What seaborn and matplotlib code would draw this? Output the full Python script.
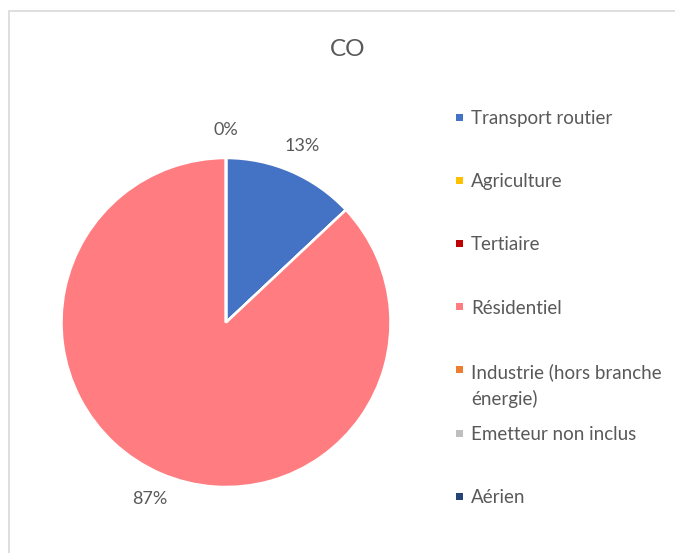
import matplotlib
matplotlib.use("Agg")
import matplotlib.pyplot as plt
from matplotlib.patches import Rectangle
import seaborn as sns

# ---- data ----
title = "CO"
categories = ["Transport routier", "Agriculture", "Tertiaire", "Résidentiel",
              "Industrie (hors branche\nénergie)", "Emetteur non inclus", "Aérien"]
values = [13, 0, 0, 87, 0, 0, 0]
colors_hex = ["#4472C4", "#FFC000", "#C00000", "#FF7C80", "#ED7D31", "#BFBFBF", "#264478"]

sns.set_theme(style="white")
plt.rcParams["font.family"] = ["Lato", "DejaVu Sans"]
palette = sns.color_palette(colors_hex)
text_color = "#595959"

W, H = 675, 553
fig = plt.figure(figsize=(W / 100, H / 100), dpi=100)

# chart-area frame (only the top and left edges are visible in the crop)
fig.patches.append(Rectangle((8.5 / W, -0.1), 2.0, 1.1 - 11.5 / H,
                             transform=fig.transFigure, fill=False,
                             edgecolor="#D9D9D9", lw=1.2))

# pie axes
cx, cy, r = 226, 322.5, 164.5
ax = fig.add_axes([(cx - r) / W, (H - cy - r) / H, 2 * r / W, 2 * r / H])
wedges, texts, autotexts = ax.pie(
    values, colors=palette, startangle=90, counterclock=False,
    wedgeprops=dict(edgecolor="white", linewidth=1.8),
    autopct=lambda p: f"{p:.0f}%", pctdistance=1.17,
    textprops=dict(color=text_color, fontsize=13))
ax.set_xlim(-1, 1)
ax.set_ylim(-1, 1)
ax.set_aspect("equal")

# show only one of the overlapping zero labels (as in the reference)
zero_idx = [i for i, v in enumerate(values) if v == 0]
for i in zero_idx[:-1]:
    autotexts[i].set_visible(False)

# title
fig.text(348 / W, 1 - 49 / H, title, ha="center", va="center",
         fontsize=17.5, color=text_color)

# legend (entries evenly spaced, marker aligned with first line)
yc0, dy = 117, 63.2
for i, (lab, col) in enumerate(zip(categories, palette)):
    yc = yc0 + i * dy
    fig.patches.append(Rectangle((456 / W, 1 - (yc + 3.5) / H), 7 / W, 7 / H,
                                 transform=fig.transFigure, facecolor=col,
                                 edgecolor="none"))
    fig.text(471 / W, 1 - (yc - 7) / H, lab, ha="left", va="top",
             fontsize=13.5, color=text_color, linespacing=1.6)

fig.savefig("out.png", dpi=100, facecolor="white")
